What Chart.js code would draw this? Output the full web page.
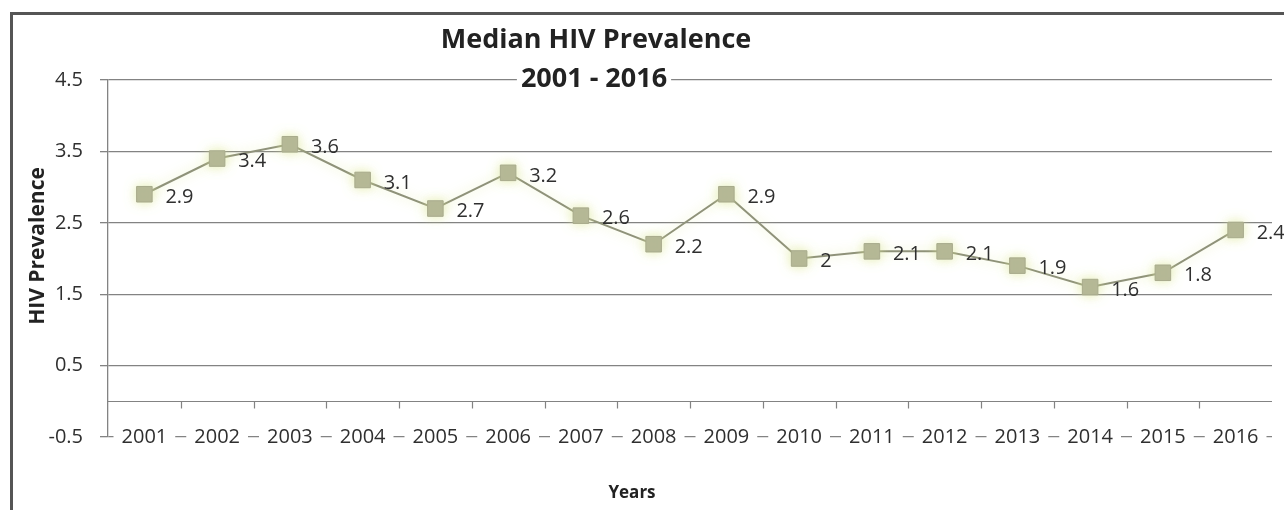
<!DOCTYPE html>
<html>
<head>
<meta charset="utf-8">
<script src="https://cdn.jsdelivr.net/npm/chart.js@4"></script>
<style>
  html, body { margin: 0; padding: 0; background: #fff; }
  #wrap { width: 1284px; height: 510px; position: relative; }
</style>
</head>
<body>
<div id="wrap"><canvas id="hiv-chart"></canvas></div>
<script>
const years = ['2001', '2002', '2003', '2004', '2005', '2006', '2007', '2008',
               '2009', '2010', '2011', '2012', '2013', '2014', '2015', '2016'];
const prevalence = [2.9, 3.4, 3.6, 3.1, 2.7, 3.2, 2.6, 2.2, 2.9, 2, 2.1, 2.1, 1.9, 1.6, 1.8, 2.4];
const yTicks = [-0.5, 0.5, 1.5, 2.5, 3.5, 4.5];
const titleLines = ['Median HIV Prevalence', '2001 - 2016'];
const yTitle = 'HIV Prevalence';
const xTitle = 'Years';

const FONT = "'Open Sans', sans-serif";
const GRID = '#838383';
const TEXT = '#2f2f2f';

// white page with the dark frame round the chart
const framePlugin = {
    id: 'frame',
    beforeDraw(chart) {
        const ctx = chart.ctx;
        ctx.save();
        ctx.fillStyle = '#fff';
        ctx.fillRect(0, 0, chart.width, chart.height);
        ctx.strokeStyle = '#555';
        ctx.lineWidth = 3;
        ctx.strokeRect(11.5, 13.5, chart.width + 20, chart.height + 20);
        ctx.restore();
    }
};

// horizontal axis crosses at 0, with tick marks between categories
const zeroAxisPlugin = {
    id: 'zeroAxis',
    beforeDatasetsDraw(chart) {
        const { ctx, chartArea, scales: { x, y } } = chart;
        const y0 = Math.round(y.getPixelForValue(0)) + 0.5;
        ctx.save();
        ctx.strokeStyle = GRID;
        ctx.lineWidth = 1.2;
        ctx.beginPath();
        ctx.moveTo(chartArea.left, y0);
        ctx.lineTo(chartArea.right, y0);
        const half = (x.getPixelForTick(1) - x.getPixelForTick(0)) / 2;
        for (let i = 1; i < years.length; i++) {
            const px = Math.round(x.getPixelForTick(i) - half) + 0.5;
            ctx.moveTo(px, y0);
            ctx.lineTo(px, y0 + 7);
        }
        ctx.stroke();
        ctx.restore();
    }
};

// soft yellowish halo round the series
const glowPlugin = {
    id: 'glow',
    beforeDatasetDraw(chart) {
        const ctx = chart.ctx;
        ctx.save();
        ctx.shadowColor = 'rgba(222, 232, 150, 0.75)';
        ctx.shadowBlur = 12;
    },
    afterDatasetDraw(chart) {
        chart.ctx.restore();
    }
};

// value next to each point
const valueLabelPlugin = {
    id: 'valueLabels',
    afterDatasetsDraw(chart) {
        const ctx = chart.ctx;
        const meta = chart.getDatasetMeta(0);
        const values = chart.data.datasets[0].data;
        ctx.save();
        ctx.font = '20px ' + FONT;
        ctx.fillStyle = TEXT;
        ctx.textAlign = 'left';
        ctx.textBaseline = 'middle';
        meta.data.forEach((pt, i) => {
            ctx.fillText(String(values[i]), pt.x + 21, pt.y + 3);
        });
        ctx.restore();
    }
};

// chart title and both axis titles
const textPlugin = {
    id: 'texts',
    afterDraw(chart) {
        const ctx = chart.ctx;
        ctx.save();
        ctx.textAlign = 'center';
        ctx.textBaseline = 'middle';
        ctx.font = 'bold 27px ' + FONT;
        ctx.fillStyle = '#222';
        ctx.fillText(titleLines[0], 596, 40);

        // second line sits on the top gridline, so blank the line behind it
        const w = ctx.measureText(titleLines[1]).width;
        ctx.fillStyle = '#fff';
        ctx.fillRect(594 - w / 2 - 4, 70, w + 8, 20);
        ctx.fillStyle = '#222';
        ctx.fillText(titleLines[1], 594, 79);

        ctx.font = 'bold 17px ' + FONT;
        ctx.fillText(xTitle, 632, 493);

        ctx.translate(38, 246);
        ctx.rotate(-Math.PI / 2);
        ctx.font = 'bold 21px ' + FONT;
        ctx.fillText(yTitle, 0, 0);
        ctx.restore();
    }
};

new Chart(document.getElementById('hiv-chart'), {
    type: 'line',
    data: {
        labels: years,
        datasets: [{
            data: prevalence,
            borderColor: '#8f927a',
            borderWidth: 2,
            pointStyle: 'rect',
            pointRadius: 11,
            pointHoverRadius: 11,
            pointBackgroundColor: '#b2b596',
            pointBorderColor: '#a8ab8c',
            pointBorderWidth: 1,
            tension: 0
        }]
    },
    options: {
        responsive: true,
        maintainAspectRatio: false,
        animation: false,
        layout: { padding: { top: 80, left: 0, right: 8, bottom: 0 } },
        scales: {
            x: {
                offset: true,
                afterFit: (s) => { s.height = 73; },
                grid: { display: false, drawTicks: false },
                border: { display: false },
                ticks: {
                    color: TEXT,
                    font: { size: 20, family: FONT },
                    // mirrored so the labels can sit on the bottom gridline without being clipped
                    mirror: true,
                    padding: -12,
                    maxRotation: 0,
                    autoSkip: false,
                    showLabelBackdrop: true,
                    backdropColor: '#fff',
                    backdropPadding: { x: 8, y: 0 }
                }
            },
            y: {
                min: -0.5,
                max: 4.5,
                afterFit: (s) => { s.width = 108; },
                afterBuildTicks: (s) => { s.ticks = yTicks.map(v => ({ value: v })); },
                grid: { color: GRID, lineWidth: 1.3, tickLength: 8, z: -1 },
                border: { display: true, color: GRID, width: 1.3 },
                ticks: {
                    color: TEXT,
                    font: { size: 20, family: FONT },
                    padding: 17
                }
            }
        },
        plugins: {
            legend: { display: false },
            title: { display: false },
            tooltip: { enabled: false }
        }
    },
    plugins: [framePlugin, zeroAxisPlugin, glowPlugin, valueLabelPlugin, textPlugin]
});
</script>
</body>
</html>
